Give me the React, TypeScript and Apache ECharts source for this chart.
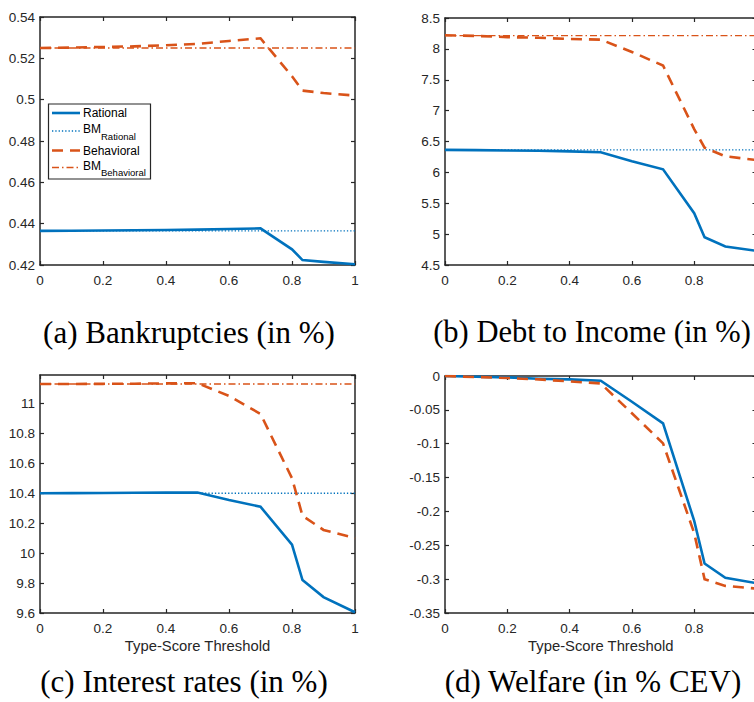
import React, { useEffect, useRef } from "react";
import * as echarts from "echarts";

// ---------- data ----------
const thresholds = [0, 0.1, 0.2, 0.3, 0.4, 0.5, 0.6, 0.7, 0.8, 0.8333, 0.9, 1];
const xTicks = [0, 0.2, 0.4, 0.6, 0.8, 1];

// (a) Bankruptcies (in %)
const bankRational = [0.4365, 0.4366, 0.4367, 0.4368, 0.4369, 0.4371, 0.4374, 0.4377, 0.4276, 0.4224, 0.4215, 0.4204];
const bankBehavioral = [0.525, 0.5252, 0.5255, 0.5258, 0.5263, 0.527, 0.5284, 0.5297, 0.5113, 0.5044, 0.5032, 0.502];
const bankBMRational = 0.4365;
const bankBMBehavioral = 0.525;

// (b) Debt to Income (in %)
const debtRational = [6.365, 6.36, 6.355, 6.35, 6.34, 6.325, 6.18, 6.05, 5.34, 4.95, 4.8, 4.73];
const debtBehavioral = [8.22, 8.21, 8.19, 8.18, 8.16, 8.15, 7.95, 7.73, 6.7, 6.4, 6.26, 6.2];
const debtBMRational = 6.365;
const debtBMBehavioral = 8.215;

// (c) Interest rates (in %)
const rateRational = [10.4, 10.401, 10.402, 10.403, 10.404, 10.405, 10.355, 10.31, 10.056, 9.82, 9.706, 9.605];
const rateBehavioral = [11.13, 11.13, 11.131, 11.132, 11.134, 11.135, 11.05, 10.93, 10.5, 10.25, 10.155, 10.1];
const rateBMRational = 10.4;
const rateBMBehavioral = 11.13;

// (d) Welfare (in % CEV)
const welfRational = [0, -0.001, -0.002, -0.004, -0.005, -0.007, -0.038, -0.07, -0.214, -0.277, -0.298, -0.306];
const welfBehavioral = [0, -0.0015, -0.003, -0.005, -0.008, -0.011, -0.055, -0.0995, -0.232, -0.3, -0.31, -0.314];

const captions = ["(a) Bankruptcies (in %)", "(b) Debt to Income (in %)", "(c) Interest rates (in %)", "(d) Welfare (in % CEV)"];
const xName = "Type-Score Threshold";
const legendNames = ["Rational", "BM", "Behavioral", "BM"];
const legendSubs = ["", "Rational", "", "Behavioral"];

// ---------- styles ----------
const SANS = "'Liberation Sans', Arial, Helvetica, sans-serif";
const SERIF = "'Liberation Serif', 'Times New Roman', serif";
const AX = "#262626";
const BLUE = "#0072BD";
const ORANGE = "#D95319";
const DASH = [11, 7];
const DOT = [1.3, 2];
const DASHDOT = [7, 3, 1.5, 3];

const pairs = (ys: number[]) => thresholds.map((x, i) => [x, ys[i]]);
const flat = (v: number) => [[xTicks[0], v], [xTicks[xTicks.length - 1], v]];

export default function App() {
  const ref = useRef<HTMLDivElement>(null);
  useEffect(() => {
    if (!ref.current) return;
    const chart = echarts.init(ref.current, null, { renderer: "svg" });

    const grids = [
      { left: 40, top: 17, width: 315, height: 248 },
      { left: 445, top: 18, width: 311.5, height: 247 },
      { left: 40, top: 375, width: 315, height: 238 },
      { left: 445, top: 376, width: 311.5, height: 237 },
    ];
    const yRanges = [
      { min: 0.42, max: 0.54, interval: 0.02 },
      { min: 4.5, max: 8.5, interval: 0.5 },
      { min: 9.6, max: 11.19, interval: 0.2 },
      { min: -0.35, max: 0, interval: 0.05 },
    ];

    const lineAx = { show: true, onZero: false, lineStyle: { color: AX, width: 1.5 } };
    const tickAx = { show: true, inside: true, length: 4, lineStyle: { color: AX, width: 1.2 } };
    const xAxis: any[] = [];
    const yAxis: any[] = [];
    grids.forEach((g, i) => {
      const bottomRow = i >= 2;
      const rightCol = i % 2 === 1;
      xAxis.push({
        type: "value", gridIndex: i, position: "bottom", min: 0, max: 1, interval: 0.2,
        axisLine: lineAx, axisTick: tickAx, splitLine: { show: false },
        axisLabel: { color: AX, fontSize: 13.5, fontFamily: SANS, margin: 8, hideOverlap: false, showMaxLabel: !rightCol },
        name: bottomRow ? xName : "", nameLocation: "middle", nameGap: 25,
        nameTextStyle: { color: AX, fontSize: 14.8, fontFamily: SANS },
      });
      xAxis.push({
        type: "value", gridIndex: i, position: "top", min: 0, max: 1, interval: 0.2,
        axisLine: lineAx, axisTick: tickAx, splitLine: { show: false }, axisLabel: { show: false },
      });
      const r = yRanges[i];
      yAxis.push({
        type: "value", gridIndex: i, position: "left", min: r.min, max: r.max, interval: r.interval,
        axisLine: lineAx, axisTick: tickAx, splitLine: { show: false },
        axisLabel: { color: AX, fontSize: 13.5, fontFamily: SANS, margin: 5, showMaxLabel: i !== 2, hideOverlap: false },
      });
      yAxis.push({
        type: "value", gridIndex: i, position: "right", min: r.min, max: r.max, interval: r.interval,
        axisLine: lineAx, axisTick: tickAx, splitLine: { show: false }, axisLabel: { show: false },
      });
    });

    const mk = (panel: number, name: string, data: number[][], color: string, width: number, type: any) => ({
      type: "line", name, xAxisIndex: panel * 2, yAxisIndex: panel * 2, data,
      symbol: "none", showSymbol: false, silent: true,
      lineStyle: { color, width, type, cap: "butt", join: "miter" },
    });

    const series: any[] = [
      mk(0, "Rational", pairs(bankRational), BLUE, 2.6, "solid"),
      mk(0, "BM Rational", flat(bankBMRational), BLUE, 1.3, DOT),
      mk(0, "Behavioral", pairs(bankBehavioral), ORANGE, 2.6, DASH),
      mk(0, "BM Behavioral", flat(bankBMBehavioral), ORANGE, 1.3, DASHDOT),
      mk(1, "Rational", pairs(debtRational), BLUE, 2.6, "solid"),
      mk(1, "BM Rational", flat(debtBMRational), BLUE, 1.3, DOT),
      mk(1, "Behavioral", pairs(debtBehavioral), ORANGE, 2.6, DASH),
      mk(1, "BM Behavioral", flat(debtBMBehavioral), ORANGE, 1.3, DASHDOT),
      mk(2, "Rational", pairs(rateRational), BLUE, 2.6, "solid"),
      mk(2, "BM Rational", flat(rateBMRational), BLUE, 1.3, DOT),
      mk(2, "Behavioral", pairs(rateBehavioral), ORANGE, 2.6, DASH),
      mk(2, "BM Behavioral", flat(rateBMBehavioral), ORANGE, 1.3, DASHDOT),
      mk(3, "Rational", pairs(welfRational), BLUE, 2.6, "solid"),
      mk(3, "Behavioral", pairs(welfBehavioral), ORANGE, 2.6, DASH),
    ];

    const capPos = [
      [189, 332],
      [592, 332],
      [184, 681],
      [593, 681],
    ];
    const graphic: any[] = captions.map((t, i) => ({
      type: "text", x: capPos[i][0], y: capPos[i][1], silent: true,
      style: {
        text: t, fontSize: i === 1 ? 30.5 : 31, fontFamily: SERIF, fill: "#000",
        align: "center", verticalAlign: "middle", textAlign: "center", textVerticalAlign: "middle",
      },
    }));

    // legend in panel (a)
    const legColors = [BLUE, BLUE, ORANGE, ORANGE];
    const legWidths = [2.6, 1.3, 2.6, 1.3];
    const legDash: any[] = [null, DOT, DASH, DASHDOT];
    const legLineY = [113, 131, 150.5, 167.5];
    const legTextY = [113, 129, 150.5, 165.5];
    const legend: any[] = [
      {
        type: "rect", shape: { x: 48.5, y: 104, width: 102, height: 75 }, z: 50, silent: true,
        style: { fill: "#fff", stroke: AX, lineWidth: 1.2 },
      },
    ];
    legendNames.forEach((n, i) => {
      legend.push({
        type: "line", z: 51, silent: true,
        shape: { x1: 52, y1: legLineY[i], x2: 80, y2: legLineY[i] },
        style: { stroke: legColors[i], lineWidth: legWidths[i], lineDash: legDash[i] || undefined, lineCap: "butt" },
      });
      legend.push({
        type: "text", z: 51, silent: true, x: 83, y: legTextY[i],
        style: {
          text: n, fontSize: 12, fontFamily: SANS, fill: "#000",
          align: "left", verticalAlign: "middle", textAlign: "left", textVerticalAlign: "middle",
        },
      });
      if (legendSubs[i]) {
        legend.push({
          type: "text", z: 51, silent: true, x: 101, y: legTextY[i] + 7,
          style: {
            text: legendSubs[i], fontSize: 9.5, fontFamily: SANS, fill: "#000",
            align: "left", verticalAlign: "middle", textAlign: "left", textVerticalAlign: "middle",
          },
        });
      }
    });

    chart.setOption({
      animation: false,
      backgroundColor: "#fff",
      grid: grids.map((g) => ({ ...g, containLabel: false, outerBoundsMode: "none" })),
      xAxis,
      yAxis,
      series,
      graphic: [...graphic, ...legend],
    });
    return () => chart.dispose();
  }, []);

  return (
    <div
      ref={ref}
      style={{ position: "absolute", left: 0, top: 0, width: 754, height: 702, background: "#fff" }}
    />
  );
}
